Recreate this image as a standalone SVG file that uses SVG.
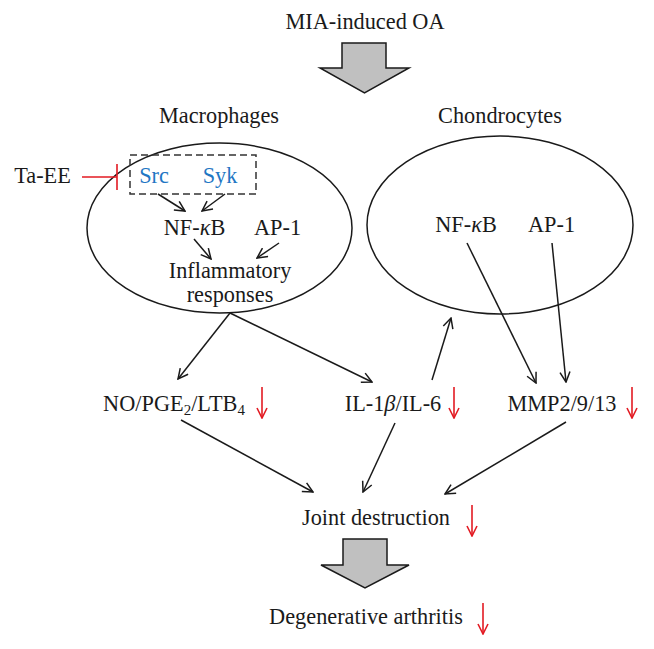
<svg xmlns="http://www.w3.org/2000/svg" width="654" height="649" viewBox="0 0 654 649">
<style>
text{font-family:"Liberation Serif","Times New Roman",serif;font-size:22.3px;fill:#1a1a1a;text-anchor:middle}
.blue{fill:#1f77c4}
.ln{stroke:#1a1a1a;stroke-width:1.5;fill:none}
.arr{stroke:#1a1a1a;stroke-width:1.5;fill:none;marker-end:url(#ah)}
.redarr{stroke:#e31b23;stroke-width:1.6;fill:none;marker-end:url(#rh)}
.blk{fill:#c0c0c0;stroke:#1a1a1a;stroke-width:1.5}
</style>
<defs>
<marker id="ah" viewBox="0 0 12 12" refX="11" refY="6" markerWidth="12" markerHeight="12" markerUnits="userSpaceOnUse" orient="auto">
<path d="M1,1 L11,6 L1,11" fill="none" stroke="#1a1a1a" stroke-width="1.5"/>
</marker>
<marker id="rh" viewBox="0 0 12 12" refX="11" refY="6" markerWidth="12" markerHeight="12" markerUnits="userSpaceOnUse" orient="auto">
<path d="M1,1 L11,6 L1,11" fill="none" stroke="#e31b23" stroke-width="1.6"/>
</marker>
</defs>
<rect width="654" height="649" fill="#fff"/>

<g id="title"><text x="365" y="29">MIA-induced OA</text></g>
<g id="blockarrow1"><path class="blk" d="M342,43 H386 V68 H409 L364.5,93 L320,68 H342 Z"/></g>

<g id="macrophages">
<text x="219" y="123">Macrophages</text>
<ellipse class="ln" cx="219.5" cy="228" rx="132.5" ry="85"/>
</g>
<g id="chondrocytes">
<text x="500" y="123">Chondrocytes</text>
<ellipse class="ln" cx="500" cy="225" rx="133" ry="89"/>
</g>

<g id="tyrosine-kinases">
<rect x="130" y="155" width="126" height="39" fill="none" stroke="#333" stroke-width="1.5" stroke-dasharray="7,4"/>
<text class="blue" x="154" y="183">Src</text>
<text class="blue" x="220" y="183">Syk</text>
</g>
<g id="ta-ee"><text x="42.5" y="183">Ta-EE</text></g>
<g id="mac-nfkb"><text x="194.5" y="235">NF-<tspan font-style="italic">κ</tspan>B</text></g>
<g id="mac-ap1"><text x="277.5" y="235">AP-1</text></g>
<g id="inflammatory"><text x="230" y="278">Inflammatory</text><text x="230" y="302">responses</text></g>
<g id="chon-nfkb"><text x="466" y="232">NF-<tspan font-style="italic">κ</tspan>B</text></g>
<g id="chon-ap1"><text x="551.5" y="232">AP-1</text></g>

<g id="no-pge2-ltb4"><text x="174" y="411">NO/PGE<tspan font-size="15" dy="4">2</tspan><tspan dy="-4">/LTB</tspan><tspan font-size="15" dy="4">4</tspan></text></g>
<g id="il1b-il6"><text x="393" y="411">IL-1<tspan font-style="italic">β</tspan>/IL-6</text></g>
<g id="mmp"><text x="562" y="411">MMP2/9/13</text></g>
<g id="joint"><text x="376" y="525">Joint destruction</text></g>
<g id="blockarrow2"><path class="blk" d="M343,539 H387 V565 H409 L365,588 L321,565 H343 Z"/></g>
<g id="degenerative"><text x="366" y="624">Degenerative arthritis</text></g>

<g id="connectors">
<path d="M82,177 H117 M117,164 V190" fill="none" stroke="#e31b23" stroke-width="1.6"/>
<path class="arr" d="M158,194 L185,211"/>
<path class="arr" d="M225,194 L202,211"/>
<path class="arr" d="M194,239 L211,259"/>
<path class="arr" d="M279,243 L257,258"/>
<path class="arr" d="M230,313 L178,379"/>
<path class="arr" d="M230,313 L372,382"/>
<path class="arr" d="M432,380 L451,318"/>
<path class="arr" d="M467,243 L536,383"/>
<path class="arr" d="M552,243 L566,382"/>
<path class="arr" d="M181,420 L313,492"/>
<path class="arr" d="M395,423 L363,492"/>
<path class="arr" d="M566,422 L445,494"/>
<path class="redarr" d="M262,387 V418"/>
<path class="redarr" d="M454,387 V418"/>
<path class="redarr" d="M632,387 V418"/>
<path class="redarr" d="M472,505 V536"/>
<path class="redarr" d="M483,603 V634"/>
</g>
</svg>
